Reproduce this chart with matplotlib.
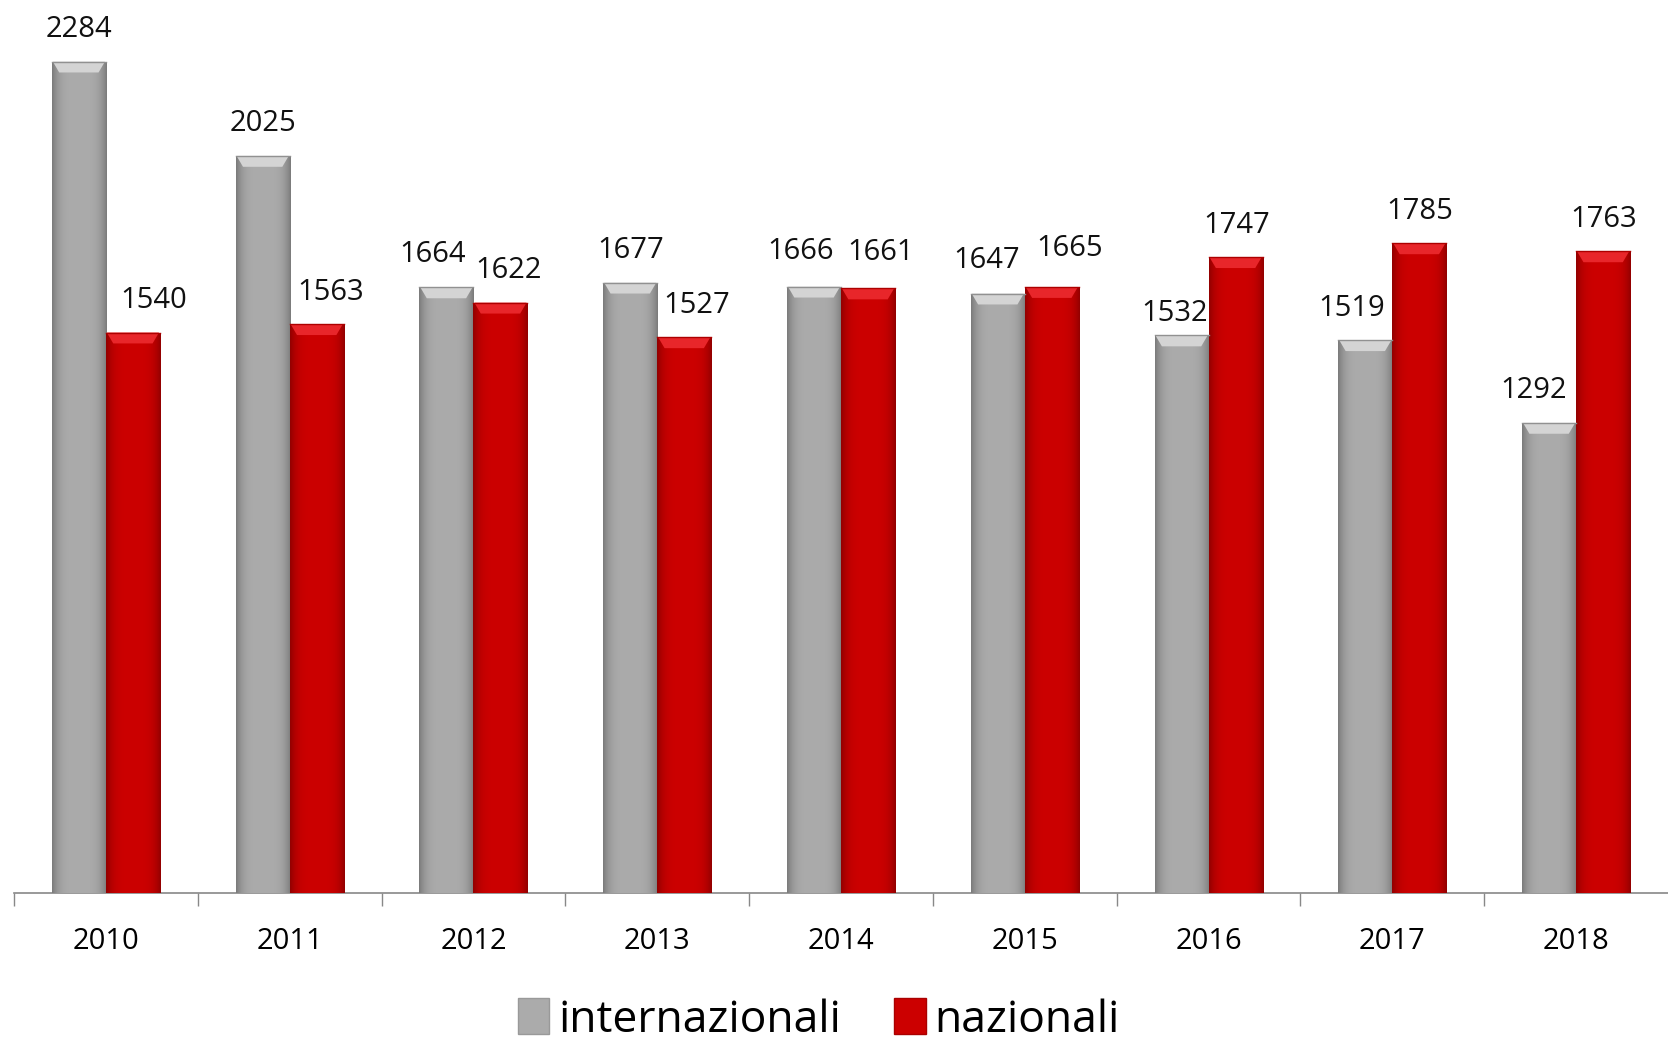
import matplotlib.pyplot as plt
import numpy as np
from matplotlib.patches import Patch

years = ['2010', '2011', '2012', '2013', '2014', '2015', '2016', '2017', '2018']
internazionali = [2284, 2025, 1664, 1677, 1666, 1647, 1532, 1519, 1292]
nazionali = [1540, 1563, 1622, 1527, 1661, 1665, 1747, 1785, 1763]

# label nudges (points), as in the original layout
dx_int = [0, 0, -10, 0, -10, -8, -5, -10, -11]
dx_naz = [15, 10, 6, 9, 9, 13, 1, 0, 0]
dy_int = [0, 0, 1, 0, 2, 1, -7, 0, 0]
dy_naz = [0, 0, 0, 0, 3, 5, 0, 0, 0]

plt.rcParams['font.family'] = ['Open Sans', 'DejaVu Sans']

fig = plt.figure(figsize=(16.68, 10.51), dpi=100)
ax = fig.add_axes([0.0084, 0.150, 0.9916, 0.850])

x = np.arange(len(years))
w = 0.294

grey = '#ababab'
red = '#cc0000'

b1 = ax.bar(x - w / 2, internazionali, w, color=grey, zorder=2)
b2 = ax.bar(x + w / 2, nazionali, w, color=red, zorder=2)


def shade(bars, base, top):
    # darker edges left/right and a light bevel on top
    rgb = np.array(plt.matplotlib.colors.to_rgb(base))
    t = np.linspace(0, 1, 64)
    f = 1 - 0.28 * np.abs(2 * t - 1) ** 4
    img = np.clip(rgb[None, :] * f[:, None], 0, 1)[None, :, :]
    for p in bars:
        x0, y0 = p.get_x(), p.get_y()
        bw, bh = p.get_width(), p.get_height()
        im = ax.imshow(img, extent=[x0, x0 + bw, y0, y0 + bh], aspect='auto',
                       zorder=3, interpolation='bicubic')
        im.set_clip_path(p)
        cap = 30
        ax.fill([x0 + 0.005, x0 + bw - 0.005, x0 + bw - 0.04, x0 + 0.04],
                [y0 + bh, y0 + bh, y0 + bh - cap, y0 + bh - cap],
                color=top, zorder=4, lw=0)
        ax.plot([x0, x0 + bw], [y0 + bh, y0 + bh], color=np.clip(rgb * 0.85, 0, 1),
                lw=1, zorder=5)


shade(b1, grey, '#d4d4d4')
shade(b2, red, '#e8262a')

for bars, vals, dxs, dys in ((b1, internazionali, dx_int, dy_int),
                             (b2, nazionali, dx_naz, dy_naz)):
    for p, v, dx, dy in zip(bars, vals, dxs, dys):
        ax.annotate(str(v), (p.get_x() + p.get_width() / 2, v),
                    xytext=(dx, 23 + dy), textcoords='offset points',
                    ha='center', va='center', fontsize=21, color='#111111')

ax.set_xlim(-0.5, len(years) - 0.5)
ax.set_ylim(0, 2453)
ax.set_xticks(x)
ax.set_xticklabels(years, fontsize=21)
ax.set_xticks(np.arange(len(years)) - 0.5, minor=True)
ax.tick_params(axis='x', which='major', length=0, pad=24)
ax.tick_params(axis='x', which='minor', length=9, color='#888888', width=1)
ax.set_yticks([])
for s in ('top', 'right', 'left'):
    ax.spines[s].set_visible(False)
ax.spines['bottom'].set_color('#888888')
ax.spines['bottom'].set_linewidth(1.2)

handles = [Patch(facecolor=grey, edgecolor='#999999', label='internazionali'),
           Patch(facecolor=red, edgecolor='#aa0000', label='nazionali')]
fig.legend(handles=handles, loc='lower center', bbox_to_anchor=(0.491, -0.030),
           ncol=2, frameon=False, fontsize=32, handlelength=0.7, handleheight=0.85,
           handletextpad=0.2, columnspacing=1.2)

fig.savefig('out.png', dpi=100)
